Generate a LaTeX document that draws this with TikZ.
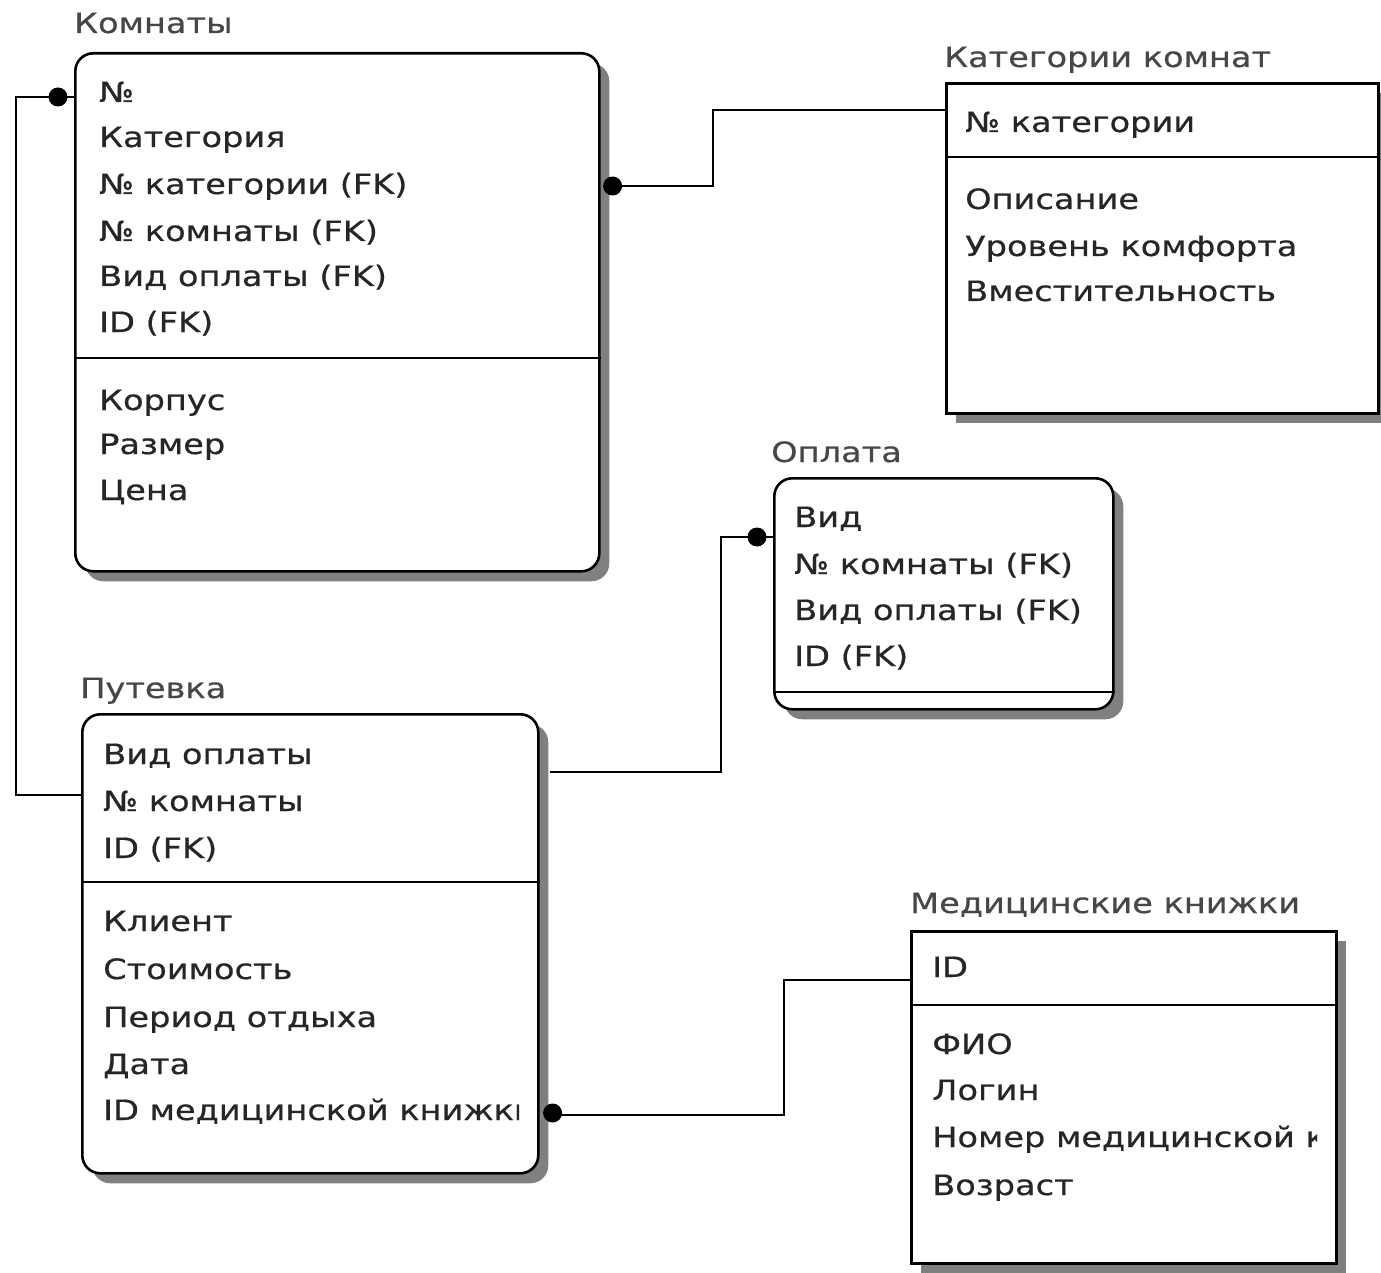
\documentclass[tikz,border=0pt]{standalone}
\usepackage{fontspec}
\setmainfont{DejaVu Sans}[FakeStretch=1.2,FakeBold=0.6]
\usetikzlibrary{shadows}
\begin{document}
\begin{tikzpicture}[x=1pt,y=-1pt,
  ent/.style={draw=black, line width=2.6pt, fill=white, inner sep=0pt, anchor=north west,
    drop shadow={shadow xshift=10pt, shadow yshift=-10pt, fill=black!50, opacity=1}},
  rnd/.style={ent, rounded corners=18pt},
  sq/.style={ent, sharp corners},
  ttl/.style={anchor=base west, inner sep=0pt, font=\fontsize{28}{30}\selectfont, text=black!72},
  att/.style={anchor=base west, inner sep=0pt, font=\fontsize{28}{30}\selectfont, text=black!85},
  divline/.style={line width=2.6pt},
  conn/.style={line width=2.4pt},
  jdot/.style={fill=black}]
\useasboundingbox (0,0) rectangle (1381,1273);
\fill[white] (0,0) rectangle (1381,1273);

% ---------- Комнаты ----------
\node[ttl] (tkomn) at (74,33) {Комнаты};
\node[rnd, minimum width=524pt, minimum height=518pt] (komn) at (74,52) {};
\draw[divline] (komn.west |- 0,358) -- (komn.east |- 0,358);
\node[att] (k1) at (99,102) {№};
\node[att] (k2) at (99,147) {Категория};
\node[att] (k3) at (99,194) {№ категории (FK)};
\node[att] (k4) at (99,241) {№ комнаты (FK)};
\node[att] (k5) at (99,286) {Вид оплаты (FK)};
\node[att] (k6) at (99,332) {ID (FK)};
\node[att] (k7) at (99,410) {Корпус};
\node[att] (k8) at (99,454) {Размер};
\node[att] (k9) at (99,500) {Цена};

% ---------- Категории комнат ----------
\node[ttl] (tkat) at (944,67) {Категории комнат};
\node[sq, minimum width=432pt, minimum height=330pt] (kat) at (945,82) {};
\draw[divline] (kat.west |- 0,157) -- (kat.east |- 0,157);
\node[att] (c1) at (965,132) {№ категории};
\node[att] (c2) at (965,209) {Описание};
\node[att] (c3) at (965,256) {Уровень комфорта};
\node[att] (c4) at (965,301) {Вместительность};

% ---------- Оплата ----------
\node[ttl] (topl) at (771,462) {Оплата};
\node[rnd, minimum width=339pt, minimum height=231pt] (opl) at (773,477) {};
\draw[divline] (opl.west |- 0,692) -- (opl.east |- 0,692);
\node[att] (o1) at (794,527) {Вид};
\node[att] (o2) at (794,574) {№ комнаты (FK)};
\node[att] (o3) at (794,620) {Вид оплаты (FK)};
\node[att] (o4) at (794,666) {ID (FK)};

% ---------- Путевка ----------
\node[ttl] (tput) at (80,698) {Путевка};
\node[rnd, minimum width=456pt, minimum height=459pt] (put) at (81,713) {};
\draw[divline] (put.west |- 0,882) -- (put.east |- 0,882);
\node[att] (p1) at (103,764) {Вид оплаты};
\node[att] (p2) at (103,811) {№ комнаты};
\node[att] (p3) at (103,858) {ID (FK)};
\node[att] (p4) at (103,931) {Клиент};
\node[att] (p5) at (103,979) {Стоимость};
\node[att] (p6) at (103,1027) {Период отдыха};
\node[att] (p7) at (103,1074) {Дата};
\begin{scope}
  \clip (90,1090) rectangle (519,1140);
  \node[att] (p8) at (103,1120) {ID медицинской книжки};
\end{scope}

% ---------- Медицинские книжки ----------
\node[ttl] (tmed) at (910,913) {Медицинские книжки};
\node[sq, minimum width=425pt, minimum height=332pt] (med) at (910,930) {};
\draw[divline] (med.west |- 0,1005) -- (med.east |- 0,1005);
\node[att] (m1) at (932,977) {ID};
\node[att] (m2) at (932,1054) {ФИО};
\node[att] (m3) at (932,1100) {Логин};
\begin{scope}
  \clip (920,1120) rectangle (1317,1170);
  \node[att] (m4) at (932,1147) {Номер медицинской книжки};
\end{scope}
\node[att] (m5) at (932,1195) {Возраст};

% ---------- connectors ----------
\draw[conn] (kat.west |- 0,110) -| (713,186) -- ([xshift=12pt]komn.east |- 0,186);
\fill[jdot] ([xshift=12pt]komn.east |- 0,186) circle (9.5pt);

\draw[conn] (put.west |- 0,795) -| (16,97) -- (komn.west |- 0,97);
\fill[jdot] ([xshift=-16pt]komn.west |- 0,97) circle (9.5pt);

\draw[conn] ([xshift=10pt]put.east |- 0,772) -| (721,537) -- (opl.west |- 0,537);
\fill[jdot] ([xshift=-16pt]opl.west |- 0,537) circle (9.5pt);

\draw[conn] (med.west |- 0,980) -| (784,1115) -- ([xshift=13pt]put.east |- 0,1115);
\fill[jdot] ([xshift=13pt]put.east |- 0,1113) circle (9.5pt);
\end{tikzpicture}
\end{document}
